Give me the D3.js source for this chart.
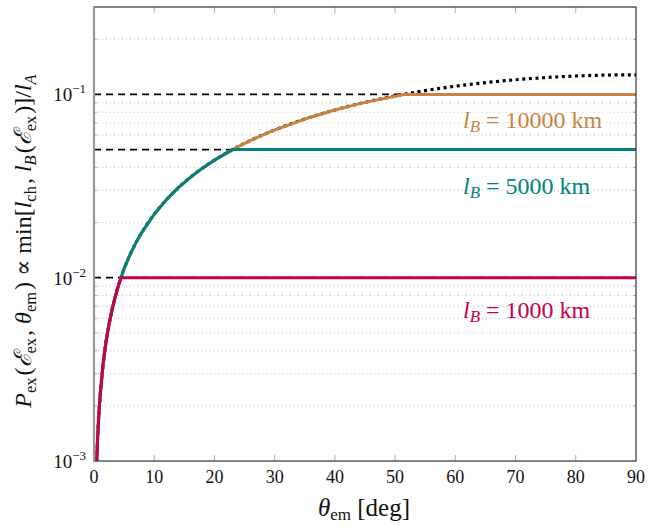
<!DOCTYPE html>
<html>
<head>
<meta charset="utf-8">
<style>
    body { margin: 0; background: white; }
    .grid line { stroke: #aaa; stroke-width: 0.8; stroke-dasharray: 1 3; }
    .tick { stroke: #999; stroke-width: 0.8; }
</style>
<script src="https://cdn.jsdelivr.net/npm/d3@7"></script>
</head>
<body>
<div id="chart"></div>
<script>
    // curve: emission angle (deg) vs P_ex
    var theta = [0.45, 0.6, 0.8, 1, 1.5, 2, 2.5, 3, 3.5, 4, 4.5, 5, 6, 7, 8, 10, 12, 14, 16, 18,
                 20, 23, 26, 30, 35, 40, 45, 51.5, 55, 60, 65, 70, 75, 80, 85, 90];
    var pex = [0.0010, 0.00134, 0.00179, 0.00223, 0.00335, 0.00447, 0.00558, 0.0067, 0.00781, 0.00893,
               0.01004, 0.0112, 0.0134, 0.0156, 0.0178, 0.0222, 0.0266, 0.0310, 0.0353, 0.0396,
               0.0438, 0.0500, 0.0561, 0.0640, 0.0734, 0.0823, 0.0905, 0.1002, 0.1049, 0.1109,
               0.1160, 0.1203, 0.1236, 0.1261, 0.1275, 0.1280];

    var lB = [10000, 5000, 1000];            // km
    var levels = [0.1, 0.05, 0.01];          // plateau of each series
    var colors = ['#c8843f', '#00827f', '#c8004b'];

    var xTicks = [0, 10, 20, 30, 40, 50, 60, 70, 80, 90];
    var yTicks = [1e-3, 1e-2, 1e-1];
    var yExp = ['\u22123', '\u22122', '\u22121'];

    var W = 651, H = 526;
    var pL = 94, pR = 636, pT = 7, pB = 461;
    var serif = "'Liberation Serif', 'Times New Roman', 'DejaVu Serif', serif";

    var x = d3.scaleLinear().domain([0, 90]).range([pL, pR]);
    var y = d3.scaleLog().domain([1e-3, 0.3]).range([pB, pT]);

    var svg = d3.select('#chart').append('svg')
        .attr('width', W)
        .attr('height', H)
        .attr('font-family', serif);

    svg.append('defs').append('clipPath').attr('id', 'clip')
        .append('rect')
        .attr('x', pL).attr('y', pT)
        .attr('width', pR - pL).attr('height', pB - pT);

    // minor grid (dotted)
    var minor = [];
    [1e-3, 1e-2, 1e-1].forEach(function(d) {
        for (var k = 2; k <= 9; k++) if (d * k <= 0.3) minor.push(d * k);
    });
    svg.append('g').attr('class', 'grid')
        .selectAll('line').data(minor).enter().append('line')
        .attr('x1', pL).attr('x2', pR)
        .attr('y1', function(d) { return y(d); })
        .attr('y2', function(d) { return y(d); });

    // ticks (inward) on all sides
    var tk = svg.append('g');
    xTicks.slice(1, -1).forEach(function(t) {
        tk.append('line').attr('class', 'tick')
            .attr('x1', x(t)).attr('x2', x(t)).attr('y1', pB).attr('y2', pB - 6);
        tk.append('line').attr('class', 'tick')
            .attr('x1', x(t)).attr('x2', x(t)).attr('y1', pT).attr('y2', pT + 6);
    });
    minor.forEach(function(v) {
        tk.append('line').attr('class', 'tick')
            .attr('x1', pL).attr('x2', pL + 3).attr('y1', y(v)).attr('y2', y(v));
        tk.append('line').attr('class', 'tick')
            .attr('x1', pR).attr('x2', pR - 3).attr('y1', y(v)).attr('y2', y(v));
    });

    var plot = svg.append('g').attr('clip-path', 'url(#clip)');

    // dashed levels
    plot.selectAll('line.level').data(levels).enter().append('line')
        .attr('class', 'level')
        .attr('x1', x(0)).attr('x2', x(90))
        .attr('y1', function(d) { return y(d); })
        .attr('y2', function(d) { return y(d); })
        .attr('stroke', 'black')
        .attr('stroke-width', 1.7)
        .attr('stroke-dasharray', '7 5');

    var pts = theta.map(function(t, i) { return [t, pex[i]]; });
    var smooth = d3.line()
        .x(function(d) { return x(d[0]); })
        .y(function(d) { return y(d[1]); })
        .curve(d3.curveMonotoneX);
    var straight = d3.line()
        .x(function(d) { return x(d[0]); })
        .y(function(d) { return y(d[1]); });

    // full curve, dotted
    plot.append('path')
        .attr('d', smooth(pts))
        .attr('fill', 'none')
        .attr('stroke', 'black')
        .attr('stroke-width', 3.2)
        .attr('stroke-dasharray', '3 3.6');

    // capped series
    levels.forEach(function(lv, i) {
        var capped = pts.map(function(p) { return [p[0], Math.min(p[1], lv)]; });
        plot.append('path')
            .attr('d', straight(capped))
            .attr('fill', 'none')
            .attr('stroke', colors[i])
            .attr('stroke-width', 3)
            .attr('stroke-linejoin', 'round');
    });

    // frame
    svg.append('rect')
        .attr('x', pL).attr('y', pT)
        .attr('width', pR - pL).attr('height', pB - pT)
        .attr('fill', 'none').attr('stroke', '#333').attr('stroke-width', 1.2);
    svg.append('line')
        .attr('x1', pL).attr('x2', pL).attr('y1', pT).attr('y2', pB)
        .attr('stroke', '#999').attr('stroke-width', 2.2);

    // series labels
    var labelOffset = [34, 44, 40];
    levels.forEach(function(lv, i) {
        var t = svg.append('text')
            .attr('x', 463)
            .attr('y', y(lv) + labelOffset[i])
            .attr('fill', colors[i])
            .attr('font-size', 24);
        t.append('tspan').attr('font-style', 'italic').text('l');
        t.append('tspan').attr('font-style', 'italic').attr('font-size', 17).attr('dy', 4).text('B');
        t.append('tspan').attr('dy', -4).text(' = ' + lB[i] + ' km');
    });

    // x tick labels
    svg.append('g').selectAll('text').data(xTicks).enter().append('text')
        .attr('x', function(d) { return x(d); })
        .attr('y', pB + 22)
        .attr('text-anchor', 'middle')
        .attr('font-size', 18)
        .attr('fill', '#111')
        .text(function(d) { return d; });

    // y tick labels
    yTicks.forEach(function(v, i) {
        var t = svg.append('text')
            .attr('x', pL - 8)
            .attr('y', y(v) + 7)
            .attr('text-anchor', 'end')
            .attr('fill', '#111')
            .attr('font-size', 19);
        t.append('tspan').text('10');
        t.append('tspan').attr('font-size', 13).attr('dy', -8).text(yExp[i]);
    });

    // x axis title
    var xt = svg.append('text')
        .attr('x', 364).attr('y', 516)
        .attr('text-anchor', 'middle')
        .attr('font-size', 25)
        .attr('fill', '#111');
    xt.append('tspan').attr('font-style', 'italic').text('θ');
    xt.append('tspan').attr('font-size', 17).attr('dy', 4).text('em');
    xt.append('tspan').attr('dy', -4).text(' [deg]');

    // y axis title
    var yt = svg.append('text')
        .attr('transform', 'translate(31,' + 240 + ') rotate(-90)')
        .attr('text-anchor', 'middle')
        .attr('font-size', 24)
        .attr('fill', '#111');
    function part(txt, italic) {
        var s = yt.append('tspan').text(txt);
        if (italic) s.attr('font-style', 'italic');
    }
    function sub(txt, italic) {
        var s = yt.append('tspan').attr('font-size', 16.5).attr('dy', 5).text(txt);
        if (italic) s.attr('font-style', 'italic');
        yt.append('tspan').attr('dy', -5).text('\u200a');
    }
    part('P', true); sub('ex');
    part('('); part('ℰ', true); sub('ex');
    part(', '); part('θ', true); sub('em');
    part(') ∝ min['); part('l', true); sub('ch');
    part(', '); part('l', true); sub('B', true);
    part('('); part('ℰ', true); sub('ex');
    part(')]/'); part('l', true); sub('A', true);
</script>
</body>
</html>
